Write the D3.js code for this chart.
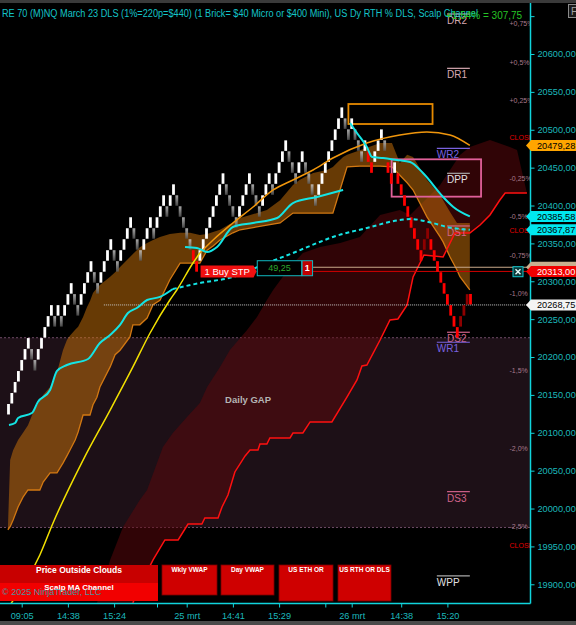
<!DOCTYPE html>
<html>
<head>
<meta charset="utf-8">
<title>MNQ Renko chart</title>
<script src="https://cdn.jsdelivr.net/npm/d3@7/dist/d3.min.js"></script>
<style>
body { margin: 0; background: #000; }
svg { display: block; font-family: Arial, "Liberation Sans", sans-serif; }
</style>
</head>
<body>
<svg id="chart"></svg>
<script>
// ---------- data ----------
// renko bricks: close price of each brick and its colour kind
// W = up (white), G = down in uptrend (grey), R = down (red), D = up in downtrend (dark red)
var brickClose = [
  20138, 20152.5, 20167, 20181.5, 20196, 20210.5, 20225,
  20196, 20181.5,
  20210.5, 20225, 20239.5, 20254, 20268.5,
  20239.5, 20268.5, 20239.5, 20268.5,
  20283, 20297.5,
  20268.5, 20254,
  20283, 20297.5, 20312, 20326.5,
  20297.5, 20283,
  20312, 20326.5, 20341, 20355.5,
  20326.5, 20312,
  20341, 20355.5, 20370, 20384.5,
  20355.5, 20341, 20326.5,
  20355.5, 20370, 20384.5,
  20355.5,
  20384.5, 20399, 20413.5,
  20384.5,
  20413.5, 20428,
  20399, 20384.5, 20370, 20355.5, 20341,
  20326.5, 20312,
  20341, 20355.5, 20370, 20384.5, 20399, 20413.5, 20428, 20442.5,
  20413.5, 20399, 20384.5, 20370,
  20399, 20413.5, 20428, 20442.5,
  20413.5, 20399, 20384.5,
  20413.5, 20428, 20442.5,
  20413.5,
  20442.5, 20457, 20471.5, 20486,
  20457, 20442.5, 20428,
  20457, 20471.5,
  20442.5, 20428, 20413.5, 20399,
  20428, 20442.5, 20457, 20471.5, 20486, 20500.5, 20515, 20529.5,
  20500.5, 20486,
  20515,
  20486, 20471.5, 20457,
  20486,
  20457, 20442.5,
  20471.5, 20486, 20500.5,
  20471.5,
  20442.5, 20428,
  20457,
  20428, 20413.5, 20399, 20384.5, 20370, 20355.5, 20341, 20326.5,
  20355.5, 20370,
  20341, 20326.5, 20312, 20297.5, 20283, 20268.5, 20254, 20239.5, 20225,
  20254, 20268.5, 20283,
  20268.75
];
var brickKind = ["WWWWWWW", "GG", "WWWWW", "GWGW", "WW", "GG", "WWWW", "GG", "WWWW", "GG",
  "WWWW", "GGG", "WWW", "G", "WWW", "G", "WW", "GGGGG", "RR", "WWWWWWWW", "GGGG", "WWWW",
  "GGG", "WWW", "G", "WWWW", "GGG", "WW", "GGGG", "WWWWWWWW", "GG", "W", "GGG", "W", "RR",
  "WWW", "G", "RR", "W", "RRRRRRRR", "DD", "RRRRRRRRR", "DDD", "R"].join("");
var brickSize = 14.5;

// scalp MA channel cloud (bar index, upper, lower)
var cloudBar = [-0.2, 0.5, 1.4, 2.9, 4.4, 5.9, 7.4, 9.5, 10.5, 12.6, 14.7, 16.5, 17.7, 18.6, 20.2, 21.1, 22.6, 23.8, 24.7, 25.6, 26.8, 27.7, 30.8, 32.3, 33.8, 36.8, 37.7, 39.8, 42, 43.8, 45.9, 48.9, 52, 55, 58, 60.2, 62, 64.1, 68, 70.2, 78.3, 82.3, 86.2, 88.3, 92.3, 96.5, 98.3, 99.5, 101.4, 102.6, 106.5, 112.6, 116.2, 118.6, 120.8, 122.6, 126.8, 130.8, 131.7, 133.8, 135.9, 136.8, 139.8];
var cloudHigh = [19972, 20064, 20077, 20090.5, 20100, 20110, 20126, 20143, 20150, 20160.5, 20180, 20209, 20222.5, 20228, 20236, 20240, 20253, 20266, 20274, 20284.5, 20291, 20295, 20306, 20312, 20319, 20332, 20336, 20345, 20350.5, 20354.5, 20358.5, 20362.5, 20364, 20364, 20361, 20362.5, 20365, 20368, 20378, 20383.5, 20394, 20407, 20427, 20434, 20443, 20447, 20451, 20456, 20464, 20467, 20473, 20482.5, 20482.5, 20456, 20467, 20464, 20434, 20414, 20407, 20391.5, 20377, 20377, 20377];
var cloudLow = [19972, 19976, 19985, 20002, 20015, 20024.5, 20024.5, 20024.5, 20035, 20047, 20047, 20060, 20069.5, 20077, 20090.5, 20101, 20123.5, 20123.5, 20123.5, 20137, 20147, 20160.5, 20187, 20203, 20209, 20226.5, 20242.5, 20242.5, 20251.5, 20269, 20275, 20302, 20324, 20324, 20324, 20341, 20346.5, 20354.5, 20364, 20368, 20374, 20377, 20390, 20390, 20390, 20390, 20390, 20407, 20434, 20451, 20452, 20452, 20451, 20440, 20430, 20420.5, 20385, 20358.5, 20352, 20332, 20315, 20306, 20288.5];

// dark red cloud: upper edge, and the stepped red line that is its lower edge
var darkBar = [26.8, 30.8, 34.7, 39.8, 42, 46.8, 49.8, 54.1, 58, 60.2, 64.1, 67.1, 72.3, 75.3, 78.3, 80.2, 85.3, 89.2, 94.4, 100.5, 106.5, 112.6, 118.6, 121.7, 130.8, 136.8, 139.8, 145.9, 151.9, 154.1];
var darkVal = [19875.3, 19932.1, 19975.7, 20011.3, 20024.5, 20081.3, 20099.7, 20120.9, 20139.3, 20160.5, 20186.9, 20209.3, 20235.7, 20252.9, 20275.3, 20288.5, 20318.9, 20337.3, 20345.3, 20350.5, 20358.5, 20387.5, 20394.1, 20387.5, 20427.1, 20466.7, 20477.3, 20486.5, 20477.3, 20473.3];
var redBar = [37.7, 38.9, 43.8, 47.4, 51.4, 54.4, 58.6, 59.5, 63.5, 64.7, 66.5, 68.6, 71.7, 73.2, 75.6, 76.2, 78.3, 79.2, 85.3, 86.2, 89.2, 91.4, 98, 102.6, 105.6, 107.1, 108.6, 112.6, 115.6, 118, 120.8, 122.6, 125.9, 131.7, 135.3, 139.8, 142.9, 145.9, 148.9, 150.5, 157.1];
var redVal = [19875.3, 19889.9, 19932.1, 19958.5, 19958.5, 19979.6, 19979.6, 19987.5, 19987.5, 20002.1, 20017.9, 20048.3, 20069.4, 20077.3, 20077.3, 20085.2, 20085.2, 20093.1, 20093.1, 20099.7, 20099.7, 20114.3, 20114.3, 20147.3, 20169.7, 20188.2, 20189.5, 20222.5, 20248.9, 20250.2, 20268.7, 20305.7, 20334.7, 20332.1, 20363.7, 20363.7, 20374.3, 20387.5, 20407.3, 20416.5, 20416.5];

// slow cyan average (solid, then dashed from index 16)
var slowBar = [0.15, 2, 2.9, 7.1, 8.9, 12.6, 14.7, 17.7, 24.1, 27.7, 30.8, 33.8, 36.2, 38.9, 42, 45.9, 49.8, 58, 68, 78.3, 86.2, 93.5, 98.3, 108.6, 118.6, 121.7, 128.6, 132.9, 139.8];
var slowVal = [20110.3, 20112.9, 20119.5, 20126.1, 20140.7, 20156.5, 20181.6, 20189.5, 20197.4, 20218.5, 20229.1, 20242.3, 20258.1, 20264.7, 20275.3, 20279.3, 20289.8, 20297.7, 20305.7, 20324.1, 20337.3, 20350.5, 20358.5, 20370.3, 20380.9, 20382.2, 20376.9, 20371.7, 20367.87];
var slowDashFrom = 16;

// fast cyan average, two pieces
var fastBarA = [53.5, 57.1, 60.2, 63.2, 68, 74.1, 81.4, 86.2, 93.5, 101.4];
var fastValA = [20345.3, 20344, 20338.7, 20345.3, 20371.7, 20376.9, 20383.5, 20403.3, 20411.3, 20420.5];
var fastBarB = [103.5, 105.6, 108.6, 110.2, 113.5, 117.7, 121.7, 125.6, 131.7, 134.8, 139.8];
var fastValB = [20508.9, 20495.7, 20477.3, 20464, 20462.7, 20460.1, 20457.5, 20442.9, 20411.3, 20398.1, 20385.58];

// curved trend line: yellow, then orange from index 10
var trendBar = [0, 9.5, 13.5, 22.6, 30.8, 37.7, 42.9, 48.9, 51, 55.9, 58, 62, 68, 74.1, 80.2, 86.2, 92.3, 98.3, 108.6, 118.6, 126.8, 133.8, 139.8];
var trendVal = [19870, 19938.7, 19981, 20064, 20130, 20186.9, 20231.7, 20275.3, 20288.5, 20324.1, 20337.3, 20354.5, 20376.9, 20398.1, 20420.5, 20433.7, 20446.9, 20462.7, 20482.5, 20493.1, 20497.1, 20493.1, 20479.28];
var trendSplit = 10;

// pivots
var pivotNames = ["DR2", "DR1", "WR2", "DPP", "DS1", "DS2", "WR1", "DS3", "WPP"];
var pivotVals = [20652.8, 20581.1, 20475.5, 20442.5, 20373, 20232.7, 20219.5, 20022.3, 19911];

// percentage levels and prior close labels
var pctLabels = ["+0,75%", "+0,5%", "+0,25%", "-0,25%", "-0,5%", "-0,75%", "-1,0%", "-1,5%", "-2,0%", "-2,5%"];
var pctVals = [20640.3, 20589.2, 20538.1, 20436, 20385.3, 20333.8, 20283.2, 20181.6, 20078.6, 19976];
var closeVals = [20489.5, 20366.8, 19950.6];

// daily gap zone
var gapTop = 20225.5, gapBottom = 19975;

// price markers on the axis
var markerVals = [20318.5, 20313, 20479.28, 20385.58, 20367.87, 20268.75];
var markerText = ["", "20313,00", "20479,28", "20385,58", "20367,87", "20268,75"];
var orderPrice = 20313, avgPrice = 20318.5, lastPrice = 20268.75;

// time axis
var xTickBars = [4, 18, 32, 45, 54, 68, 82, 96, 104, 119, 133];
var xTickLabels = ["09:05", "14:38", "15:24", "", "25 mrt", "14:41", "15:29", "", "26 mrt", "14:38", "15:20"];
var yTickVals = d3.range(19900, 20651, 50);

// ---------- drawing ----------
var W = 576, H = 625;
var plotRight = 530, plotTop = 4, plotBottom = 603;

var loc = d3.formatLocale({decimal: ",", thousands: ".", grouping: [3], currency: ["", ""]});
var fmt = loc.format(".2f");

var svg = d3.select("#chart").attr("width", W).attr("height", H);
svg.append("rect").attr("width", W).attr("height", H).attr("fill", "#000");
svg.append("rect").attr("width", W).attr("height", 3).attr("fill", "#3a3a3a");
svg.append("rect").attr("y", 621).attr("width", W).attr("height", 4).attr("fill", "#4a4a4a");

var xs = d3.scaleLinear().domain([0, 140]).range([8.5, 470.5]);
var ys = d3.scaleLinear().domain([19875.3, 20664.7]).range([plotBottom, 5]);

var defs = svg.append("defs");
defs.append("clipPath").attr("id", "plotclip")
  .append("rect").attr("x", 0).attr("y", plotTop).attr("width", plotRight).attr("height", plotBottom - plotTop);
var gg = defs.append("linearGradient").attr("id", "greyBrick").attr("x1", 0).attr("y1", 0).attr("x2", 0).attr("y2", 1);
gg.append("stop").attr("offset", "0%").attr("stop-color", "#d0d0d0").attr("stop-opacity", 0.8);
gg.append("stop").attr("offset", "100%").attr("stop-color", "#585858").attr("stop-opacity", 0.8);

var plot = svg.append("g").attr("clip-path", "url(#plotclip)");

// gap zone
plot.append("rect").attr("x", 0).attr("width", plotRight)
  .attr("y", ys(gapTop)).attr("height", ys(gapBottom) - ys(gapTop)).attr("fill", "#1d1017");
[gapTop, gapBottom].forEach(function(v) {
  plot.append("line").attr("x1", 0).attr("x2", plotRight).attr("y1", ys(v)).attr("y2", ys(v))
    .attr("stroke", "#6e4c66").attr("stroke-dasharray", "2,2");
});

// dark red cloud
var darkPts = darkBar.map(function(b, i) { return [xs(b), ys(darkVal[i])]; })
  .concat(redBar.map(function(b, i) { return [xs(b), ys(redVal[i])]; }).reverse());
plot.append("path").attr("d", d3.line()(darkPts) + "Z").attr("fill", "rgba(95,8,12,0.5)");

// orange channel cloud
var cloud = cloudBar.map(function(b, i) { return {b: b, hi: cloudHigh[i], lo: cloudLow[i]}; });
plot.append("path").datum(cloud)
  .attr("d", d3.area().x(function(d) { return xs(d.b); }).y0(function(d) { return ys(d.lo); }).y1(function(d) { return ys(d.hi); }))
  .attr("fill", "rgba(205,115,10,0.5)");
plot.append("path").datum(cloud)
  .attr("d", d3.line().x(function(d) { return xs(d.b); }).y(function(d) { return ys(d.lo); }))
  .attr("fill", "none").attr("stroke", "#d27812").attr("stroke-width", 1.3);

// bottom indicator buttons
var btn = svg.append("g");
btn.append("rect").attr("x", 0).attr("y", 565).attr("width", 158).attr("height", 18).attr("fill", "#c80000");
btn.append("rect").attr("x", 0).attr("y", 583).attr("width", 158).attr("height", 18).attr("fill", "#f20000");
btn.append("text").attr("x", 79).attr("y", 573).attr("text-anchor", "middle").attr("fill", "#fff")
  .attr("font-size", "8.5px").attr("font-weight", "bold").text("Price Outside Clouds");
btn.append("text").attr("x", 79).attr("y", 590).attr("text-anchor", "middle").attr("fill", "#fff")
  .attr("font-size", "8px").attr("font-weight", "bold").text("Scalp MA Channel");
[[162, 217, 595, "Wkly VWAP"], [221, 274, 595, "Day VWAP"], [279, 333, 601, "US ETH OR"], [338, 391, 601, "US RTH OR DLS"]]
  .forEach(function(b) {
    btn.append("rect").attr("x", b[0]).attr("y", 565).attr("width", b[1] - b[0]).attr("height", b[2] - 565)
      .attr("fill", "#cf0000").attr("stroke", "#7a0000").attr("stroke-width", 0.8);
    btn.append("text").attr("x", (b[0] + b[1]) / 2).attr("y", 572).attr("text-anchor", "middle")
      .attr("fill", "#fff").attr("font-size", "6.5px").attr("font-weight", "bold").text(b[3]);
  });

// red stepped line
plot.append("path").datum(redBar.map(function(b, i) { return [xs(b), ys(redVal[i])]; }))
  .attr("d", d3.line()).attr("fill", "none").attr("stroke", "#ff1010").attr("stroke-width", 1.5);

// percentage and close labels at the right edge
pctLabels.forEach(function(t, i) {
  plot.append("text").attr("x", 509.5).attr("y", ys(pctVals[i])).attr("dy", "0.35em")
    .attr("fill", "#a87a8c").attr("font-size", "7px").text(t);
});
closeVals.forEach(function(v) {
  plot.append("text").attr("x", 509.5).attr("y", ys(v)).attr("dy", "0.35em")
    .attr("fill", "#e00000").attr("font-size", "7px").text("CLOSE");
});

// pivot lines and names
pivotNames.forEach(function(n, i) {
  var weekly = n[0] === "W";
  var x0 = weekly ? xs(129.8) : xs(132.9), x1 = xs(139.8);
  var col = n.indexOf("DR") === 0 ? "#d8a9b2" : n.indexOf("DS") === 0 ? "#d2638a" : n.indexOf("WR") === 0 ? "#7a62e0" : "#e2e2e2";
  var lcol = (n === "DPP" || n === "WPP") ? "#a8a8a8" : col;
  var yy = ys(pivotVals[i]);
  plot.append("line").attr("x1", x0).attr("x2", x1).attr("y1", yy).attr("y2", yy)
    .attr("stroke", lcol).attr("stroke-width", 1.2);
  plot.append("text").attr("x", x0).attr("y", yy + 10).attr("fill", col).attr("font-size", "10px").text(n);
});
// pivot box and top box
plot.append("rect").attr("x", xs(116.1)).attr("y", ys(20461)).attr("width", xs(143.2) - xs(116.1))
  .attr("height", ys(20411.7) - ys(20461)).attr("fill", "none").attr("stroke", "#e0609a").attr("stroke-width", 1.8);
plot.append("rect").attr("x", xs(103)).attr("y", ys(20534)).attr("width", xs(128.5) - xs(103))
  .attr("height", ys(20507.6) - ys(20534)).attr("fill", "none").attr("stroke", "#e68a00").attr("stroke-width", 1.8);

// horizontal price lines
plot.append("line").attr("x1", xs(28.9)).attr("x2", plotRight).attr("y1", ys(lastPrice)).attr("y2", ys(lastPrice))
  .attr("stroke", "#c8c8c8").attr("stroke-dasharray", "1,1");
plot.append("line").attr("x1", xs(92.3)).attr("x2", plotRight).attr("y1", ys(avgPrice)).attr("y2", ys(avgPrice))
  .attr("stroke", "#c9a98a");
plot.append("line").attr("x1", xs(92.3)).attr("x2", plotRight).attr("y1", ys(orderPrice)).attr("y2", ys(orderPrice))
  .attr("stroke", "#d00000");

// bricks
var bricks = brickClose.map(function(c, i) {
  var k = brickKind[i];
  var up = (k === "W" || k === "D");
  return {i: i, close: c, open: up ? c - brickSize : c + brickSize, kind: k};
});
var brickFill = {W: "#ffffff", G: "url(#greyBrick)", R: "#ff0000", D: "#8e0000"};
plot.selectAll("rect.brick").data(bricks).enter().append("rect")
  .attr("class", "brick")
  .attr("x", function(d) { return xs(d.i) - 1.4; })
  .attr("width", 2.8)
  .attr("y", function(d) { return ys(Math.max(d.open, d.close)); })
  .attr("height", function(d) { return ys(Math.min(d.open, d.close)) - ys(Math.max(d.open, d.close)) - 0.5; })
  .attr("fill", function(d) { return brickFill[d.kind]; });

// trend curve
var trendPts = trendBar.map(function(b, i) { return [xs(b), ys(trendVal[i])]; });
var curve = d3.line().curve(d3.curveMonotoneX);
plot.append("path").attr("d", curve(trendPts.slice(0, trendSplit + 1)))
  .attr("fill", "none").attr("stroke", "#f2e000").attr("stroke-width", 1.5);
plot.append("path").attr("d", curve(trendPts.slice(trendSplit)))
  .attr("fill", "none").attr("stroke", "#f0960c").attr("stroke-width", 1.5);

// cyan averages
var slowPts = slowBar.map(function(b, i) { return [xs(b), ys(slowVal[i])]; });
plot.append("path").attr("d", curve(slowPts.slice(0, slowDashFrom + 1)))
  .attr("fill", "none").attr("stroke", "#14e4e4").attr("stroke-width", 2);
plot.append("path").attr("d", curve(slowPts.slice(slowDashFrom)))
  .attr("fill", "none").attr("stroke", "#14e4e4").attr("stroke-width", 2).attr("stroke-dasharray", "4,3");
[[fastBarA, fastValA], [fastBarB, fastValB]].forEach(function(s) {
  plot.append("path").attr("d", curve(s[0].map(function(b, i) { return [xs(b), ys(s[1][i])]; })))
    .attr("fill", "none").attr("stroke", "#14e4e4").attr("stroke-width", 2);
});

// daily gap label
plot.append("text").attr("x", xs(72.6)).attr("y", ys(20144)).attr("dy", "0.35em").attr("text-anchor", "middle")
  .attr("fill", "#b4b4b4").attr("font-size", "9.5px").attr("font-weight", "bold").text("Daily GAP");

// order label
var oy = ys(orderPrice), bx = xs(58.2);
plot.append("path").attr("d", "M" + bx + "," + (oy - 6) + "H" + (bx + 53) + "L" + (bx + 56) + "," + oy +
    "L" + (bx + 53) + "," + (oy + 6) + "H" + bx + "Z").attr("fill", "#f01010");
plot.append("text").attr("x", bx + 4).attr("y", oy).attr("dy", "0.35em").attr("fill", "#fff")
  .attr("font-size", "9.5px").text("1 Buy STP");
plot.append("rect").attr("x", bx + 56.7).attr("y", oy - 10.7).attr("width", 44.5).attr("height", 15)
  .attr("fill", "#000").attr("stroke", "#10b8c0").attr("stroke-width", 1);
plot.append("text").attr("x", bx + 79).attr("y", oy - 3.2).attr("dy", "0.35em").attr("text-anchor", "middle")
  .attr("fill", "#2ea82e").attr("font-size", "9px").text("49,25");
plot.append("rect").attr("x", bx + 101.5).attr("y", oy - 10.7).attr("width", 10.5).attr("height", 15)
  .attr("fill", "#c00000").attr("stroke", "#10b8c0").attr("stroke-width", 1);
plot.append("text").attr("x", bx + 106.7).attr("y", oy - 3.2).attr("dy", "0.35em").attr("text-anchor", "middle")
  .attr("fill", "#fff").attr("font-size", "9px").attr("font-weight", "bold").text("1");
// close-order box
var cb = plot.append("g").attr("transform", "translate(513," + (oy - 4.7) + ")");
cb.append("rect").attr("width", 10).attr("height", 10).attr("fill", "#0a3838").attr("stroke", "#10c8d0");
cb.append("path").attr("d", "M2.5,2.5L7.5,7.5M7.5,2.5L2.5,7.5").attr("stroke", "#e8ffff").attr("stroke-width", 1.4);

// copyright
svg.append("text").attr("x", 2).attr("y", 592).attr("dy", "0.35em").attr("fill", "rgba(40,175,190,0.85)")
  .attr("font-size", "9px").text("\u00a9 2025 NinjaTrader, LLC");

// ---------- axes ----------
var yAxis = d3.axisRight(ys).tickValues(yTickVals).tickSize(4).tickSizeOuter(0).tickPadding(3)
  .tickFormat(function(d) { return d === 20650 ? "" : fmt(d); });
var ya = svg.append("g").attr("transform", "translate(" + (plotRight + 0.5) + ",0)").call(yAxis);
ya.select(".domain").remove();
ya.selectAll("line").attr("stroke", "#10d4dc");
ya.selectAll("text").attr("fill", "#1cb8bc").attr("font-size", "9.2px").attr("font-family", "Arial, 'Liberation Sans', sans-serif");
svg.append("line").attr("x1", plotRight + 0.5).attr("x2", plotRight + 0.5).attr("y1", 3).attr("y2", plotBottom + 0.5)
  .attr("stroke", "#10d4dc").attr("stroke-width", 1.5);

var xAxis = d3.axisBottom(xs).tickValues(xTickBars).tickSize(4).tickSizeOuter(0).tickPadding(5)
  .tickFormat(function(d, i) { return xTickLabels[i]; });
var xa = svg.append("g").attr("transform", "translate(0," + (plotBottom + 0.5) + ")").call(xAxis);
xa.select(".domain").remove();
xa.selectAll("line").attr("stroke", "#10d4dc");
xa.selectAll("text").attr("fill", "#1cb8bc").attr("font-size", "9.2px").attr("font-family", "Arial, 'Liberation Sans', sans-serif");
svg.append("line").attr("x1", 0).attr("x2", plotRight + 0.5).attr("y1", plotBottom + 0.5).attr("y2", plotBottom + 0.5)
  .attr("stroke", "#10d4dc").attr("stroke-width", 1.5);

// price markers on the axis
var markerFill = ["#c8b090", "#f00000", "#ffa500", "#00e8f0", "#00e8f0", "#f4f4f4"];
var markerInk = ["#000", "#fff", "#000", "#000", "#000", "#000"];
markerVals.forEach(function(v, i) {
  var yc = ys(v);
  svg.append("path").attr("d", "M526," + yc + "L531," + (yc - 5.5) + "H576V" + (yc + 5.5) + "H531Z")
    .attr("fill", markerFill[i]);
  svg.append("text").attr("x", 537).attr("y", yc).attr("dy", "0.35em").attr("fill", markerInk[i])
    .attr("font-size", "9.2px").text(markerText[i]);
});

// ---------- header ----------
svg.append("text").attr("x", 2).attr("y", 16.5).attr("fill", "#14c4c8").attr("font-size", "10px")
  .attr("textLength", 476).attr("lengthAdjust", "spacingAndGlyphs")
  .text("RE 70 (M)NQ March 23 DLS  (1%=220p=$440) (1 Brick= $40 Micro or $400 Mini), US Dy RTH % DLS, Scalp Channel");
svg.append("text").attr("x", 446).attr("y", 18.5).attr("fill", "#26c426").attr("font-size", "10px")
  .text("+1,54% = 307,75");
svg.append("rect").attr("x", 568.5).attr("y", 4.5).attr("width", 12).attr("height", 13)
  .attr("fill", "#1a1a1a").attr("stroke", "#8a8a8a");
svg.append("text").attr("x", 571).attr("y", 15).attr("fill", "#a0a0a0").attr("font-size", "10px").text("F");
</script>
</body>
</html>
